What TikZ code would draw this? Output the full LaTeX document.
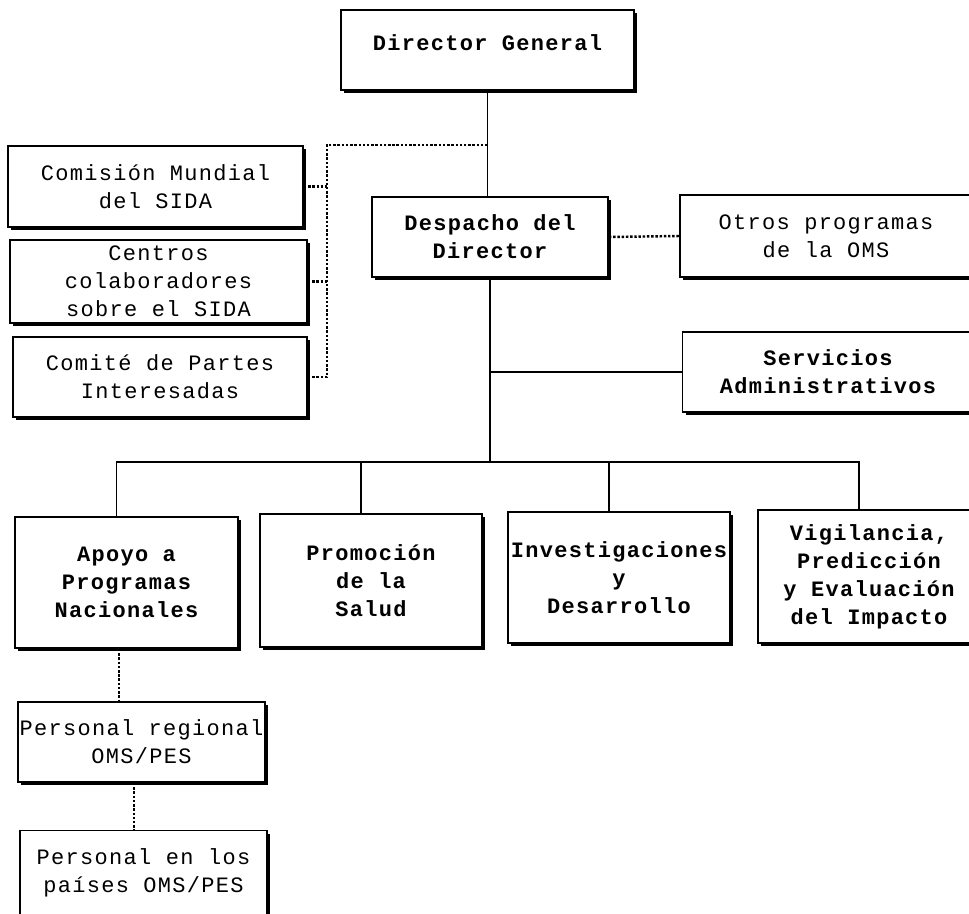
\documentclass[tikz,border=0pt]{standalone}
\usepackage{fontspec}
\setmonofont{Liberation Mono}[LetterSpace=6]
\usetikzlibrary{shadows}

\tikzset{
  unit/.style={draw, fill=white, line width=1.1pt, align=center,
    font=\ttfamily\fontsize{12.5}{16}\selectfont, inner sep=0pt,
    drop shadow={shadow xshift=1.8pt, shadow yshift=-1.8pt, fill=black, opacity=1}},
  head/.style={unit, font=\ttfamily\bfseries\fontsize{12.5}{16}\selectfont},
  link/.style={line width=1.1pt},
  aux/.style={line width=1.4pt, densely dotted}
}

\begin{document}
\begin{tikzpicture}
  \useasboundingbox (0,0) rectangle (19.38,18.26);
  \clip (0,0) rectangle (19.38,18.26);

  % central line
  \node[head, minimum width=5.86cm, minimum height=1.6cm] (dg) at (9.75,17.26) {\raisebox{8pt}{Director General}};
  \node[head, minimum width=4.72cm, minimum height=1.6cm] (desp) at (9.80,13.52) {Despacho del\\Director};
  \node[unit, minimum width=5.84cm, minimum height=1.64cm] (otros) at (16.52,13.54) {Otros programas\\de la OMS};
  \node[head, minimum width=5.82cm, minimum height=1.6cm] (serv) at (16.56,10.82) {Servicios\\Administrativos};

  % advisory bodies
  \node[unit, minimum width=5.9cm, minimum height=1.62cm] (comis) at (3.11,14.53) {Comisión Mundial\\del SIDA};
  \node[unit, minimum width=5.94cm, minimum height=1.66cm] (centros) at (3.17,12.63) {Centros\\colaboradores\\sobre el SIDA};
  \node[unit, minimum width=5.88cm, minimum height=1.6cm] (comite) at (3.20,10.72) {Comité de Partes\\Interesadas};

  % programme units
  \node[head, minimum width=4.46cm, minimum height=2.62cm] (apoyo) at (2.53,6.61) {Apoyo a\\Programas\\Nacionales};
  \node[head, minimum width=4.44cm, minimum height=2.66cm] (promo) at (7.42,6.65) {Promoción\\de la\\Salud};
  \node[head, minimum width=4.44cm, minimum height=2.62cm] (invest) at (12.38,6.71) {Investigaciones\\y\\Desarrollo};
  \node[head, minimum width=4.44cm, minimum height=2.66cm] (vigil) at (17.38,6.73) {Vigilancia,\\Predicción\\y Evaluación\\del Impacto};

  % field staff
  \node[unit, minimum width=4.94cm, minimum height=1.6cm] (reg) at (2.83,3.42) {Personal regional\\OMS/PES};
  \node[unit, minimum width=4.94cm, minimum height=1.7cm] (paises) at (2.87,0.80) {Personal en los\\países OMS/PES};

  % solid links
  \draw[link] (dg.south) -- (dg.south |- desp.north);
  \draw[link] (desp.south) -- (desp.south |- 0,9.02) coordinate (bus);
  \draw[link] (serv.west) -- (serv.west -| bus);
  \draw[link] ([xshift=-2mm]apoyo.north) |- ([xshift=-2mm]vigil.north |- bus) -- ([xshift=-2mm]vigil.north);
  \draw[link] ([xshift=-2mm]promo.north) -- ([xshift=-2mm]promo.north |- bus);
  \draw[link] ([xshift=-2mm]invest.north) -- ([xshift=-2mm]invest.north |- bus);

  % dotted links
  \coordinate (tap) at (9.75,15.36);
  \coordinate (side) at (6.54,15.36);
  \draw[aux] (tap) -- (side) |- (comite.east);
  \draw[aux] (comis.east) -- (comis.east -| side);
  \draw[aux] (centros.east) -- (centros.east -| side);
  \draw[aux] (desp.east) -- (otros.west);
  \draw[aux] ([xshift=-1.5mm]apoyo.south) -- ([xshift=-1.5mm]apoyo.south |- reg.north);
  \draw[aux] ([xshift=-1.5mm]reg.south) -- ([xshift=-1.5mm]reg.south |- paises.north);
\end{tikzpicture}
\end{document}
